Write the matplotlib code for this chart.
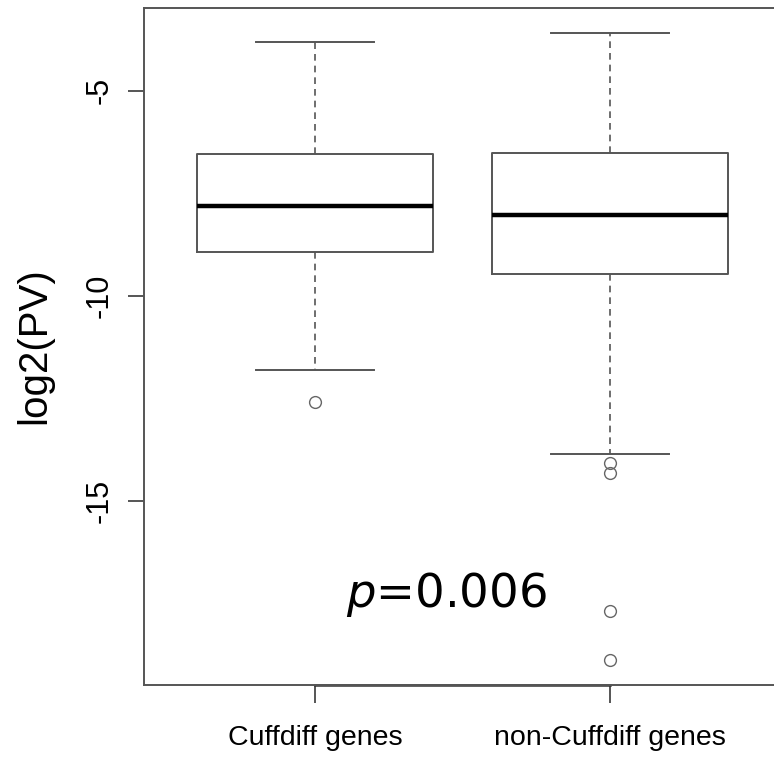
import matplotlib
matplotlib.use('Agg')
import matplotlib.pyplot as plt

labels = ['Cuffdiff genes', 'non-Cuffdiff genes']
whis_hi = [-3.80, -3.59]
q3 = [-6.54, -6.51]
med = [-7.80, -8.02]
q1 = [-8.93, -9.46]
whis_lo = [-11.80, -13.85]
fliers = [[-12.59], [-14.07, -14.32, -17.68, -18.88]]
ptext = '$p$=0.006'

stats = []
for i in range(2):
    stats.append(dict(label=labels[i], whishi=whis_hi[i], q3=q3[i], med=med[i],
                      q1=q1[i], whislo=whis_lo[i], fliers=fliers[i]))

plt.rcParams['font.family'] = ['Liberation Sans', 'DejaVu Sans']
fig = plt.figure(figsize=(7.74, 7.58), dpi=100)
ax = fig.add_axes([144/774, 1-685/758, (781-144)/774, (685-8)/758])

gray = '#555555'
ax.bxp(stats, positions=[1, 2], widths=0.8, patch_artist=False,
       boxprops=dict(color=gray, lw=1.4),
       medianprops=dict(color='black', lw=3.2),
       whiskerprops=dict(color=gray, lw=1.2, linestyle=(0, (4, 3))),
       capprops=dict(color=gray, lw=1.4),
       flierprops=dict(marker='o', markerfacecolor='none', markeredgecolor='#666666',
                       markersize=8.5, markeredgewidth=1.0),
       capwidths=0.4)

ax.set_xlim(0.42, 2.58)
ax.set_ylim(-19.49, -2.98)
for s in ax.spines.values():
    s.set_color(gray)
    s.set_linewidth(1.4)
ax.plot([1, 2], [-19.49, -19.49], color='#333333', lw=1.8, clip_on=False)

ax.set_yticks([-5, -10, -15])
ax.set_yticklabels(['-5', '-10', '-15'], rotation=90, va='center', fontsize=22)
ax.set_xticks([1, 2])
ax.set_xticklabels(labels, fontsize=20.5)
ax.tick_params(axis='y', length=11.5, width=1.4, color=gray, pad=10)
ax.tick_params(axis='x', length=13, width=1.4, color=gray, pad=16)

fig.text(34/774, 1-346/758, 'log2(PV)', rotation=90, ha='center', va='center', fontsize=29)
ax.text(1.447, -17.59, ptext, ha='center', va='baseline', fontsize=33.5,
        family='DejaVu Sans')

fig.savefig('out.png', dpi=100)
